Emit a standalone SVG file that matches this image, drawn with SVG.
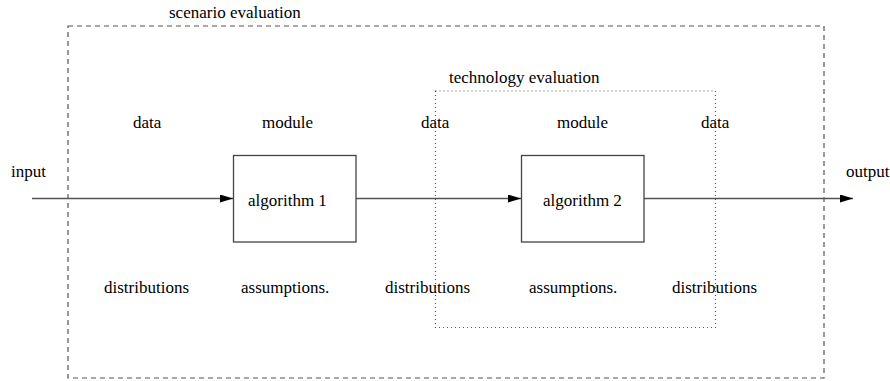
<svg xmlns="http://www.w3.org/2000/svg" width="890" height="381" viewBox="0 0 890 381">
<style>
text{font-family:"Liberation Serif","Times New Roman",serif;font-size:17px;fill:#000}
.line{stroke:#555;stroke-width:1.3;fill:none}
.box{stroke:#444;stroke-width:1.3;fill:#fff}
.dash{stroke:#555;stroke-width:1.2;fill:none;stroke-dasharray:5 4}
.dot{stroke:#555;stroke-width:1.2;fill:none;stroke-dasharray:1 3}
</style>
<defs>
<marker id="arr" viewBox="0 0 13 8" refX="13" refY="4" markerWidth="13" markerHeight="8" markerUnits="userSpaceOnUse" orient="auto">
<path d="M0,0 L13,4 L0,8 Z" fill="#000"/>
</marker>
</defs>
<g id="scenario">
<rect class="dash" x="68" y="26" width="756" height="352"/>
<text x="169" y="18">scenario evaluation</text>
</g>
<g id="technology">
<rect class="dot" x="435.5" y="91" width="280" height="236.5"/>
<text x="449" y="83">technology evaluation</text>
</g>
<g id="connectors">
<line class="line" x1="32" y1="198.5" x2="233" y2="198.5" marker-end="url(#arr)"/>
<line class="line" x1="356" y1="198.5" x2="521" y2="198.5" marker-end="url(#arr)"/>
<line class="line" x1="644" y1="198.5" x2="853" y2="198.5" marker-end="url(#arr)"/>
</g>
<g id="algorithm1">
<rect class="box" x="233.5" y="155.5" width="122.5" height="86.5"/>
<text x="248" y="206">algorithm 1</text>
</g>
<g id="algorithm2">
<rect class="box" x="521.5" y="155.5" width="122.5" height="86.5"/>
<text x="543" y="206">algorithm 2</text>
</g>
<g id="labels">
<text x="11" y="177">input</text>
<text x="846" y="177">output</text>
<text x="133" y="128">data</text>
<text x="262" y="128">module</text>
<text x="421" y="128">data</text>
<text x="557" y="128">module</text>
<text x="701" y="128">data</text>
<text x="104" y="293">distributions</text>
<text x="241" y="293">assumptions.</text>
<text x="385" y="293">distributions</text>
<text x="529" y="293">assumptions.</text>
<text x="672" y="293">distributions</text>
</g>
</svg>
